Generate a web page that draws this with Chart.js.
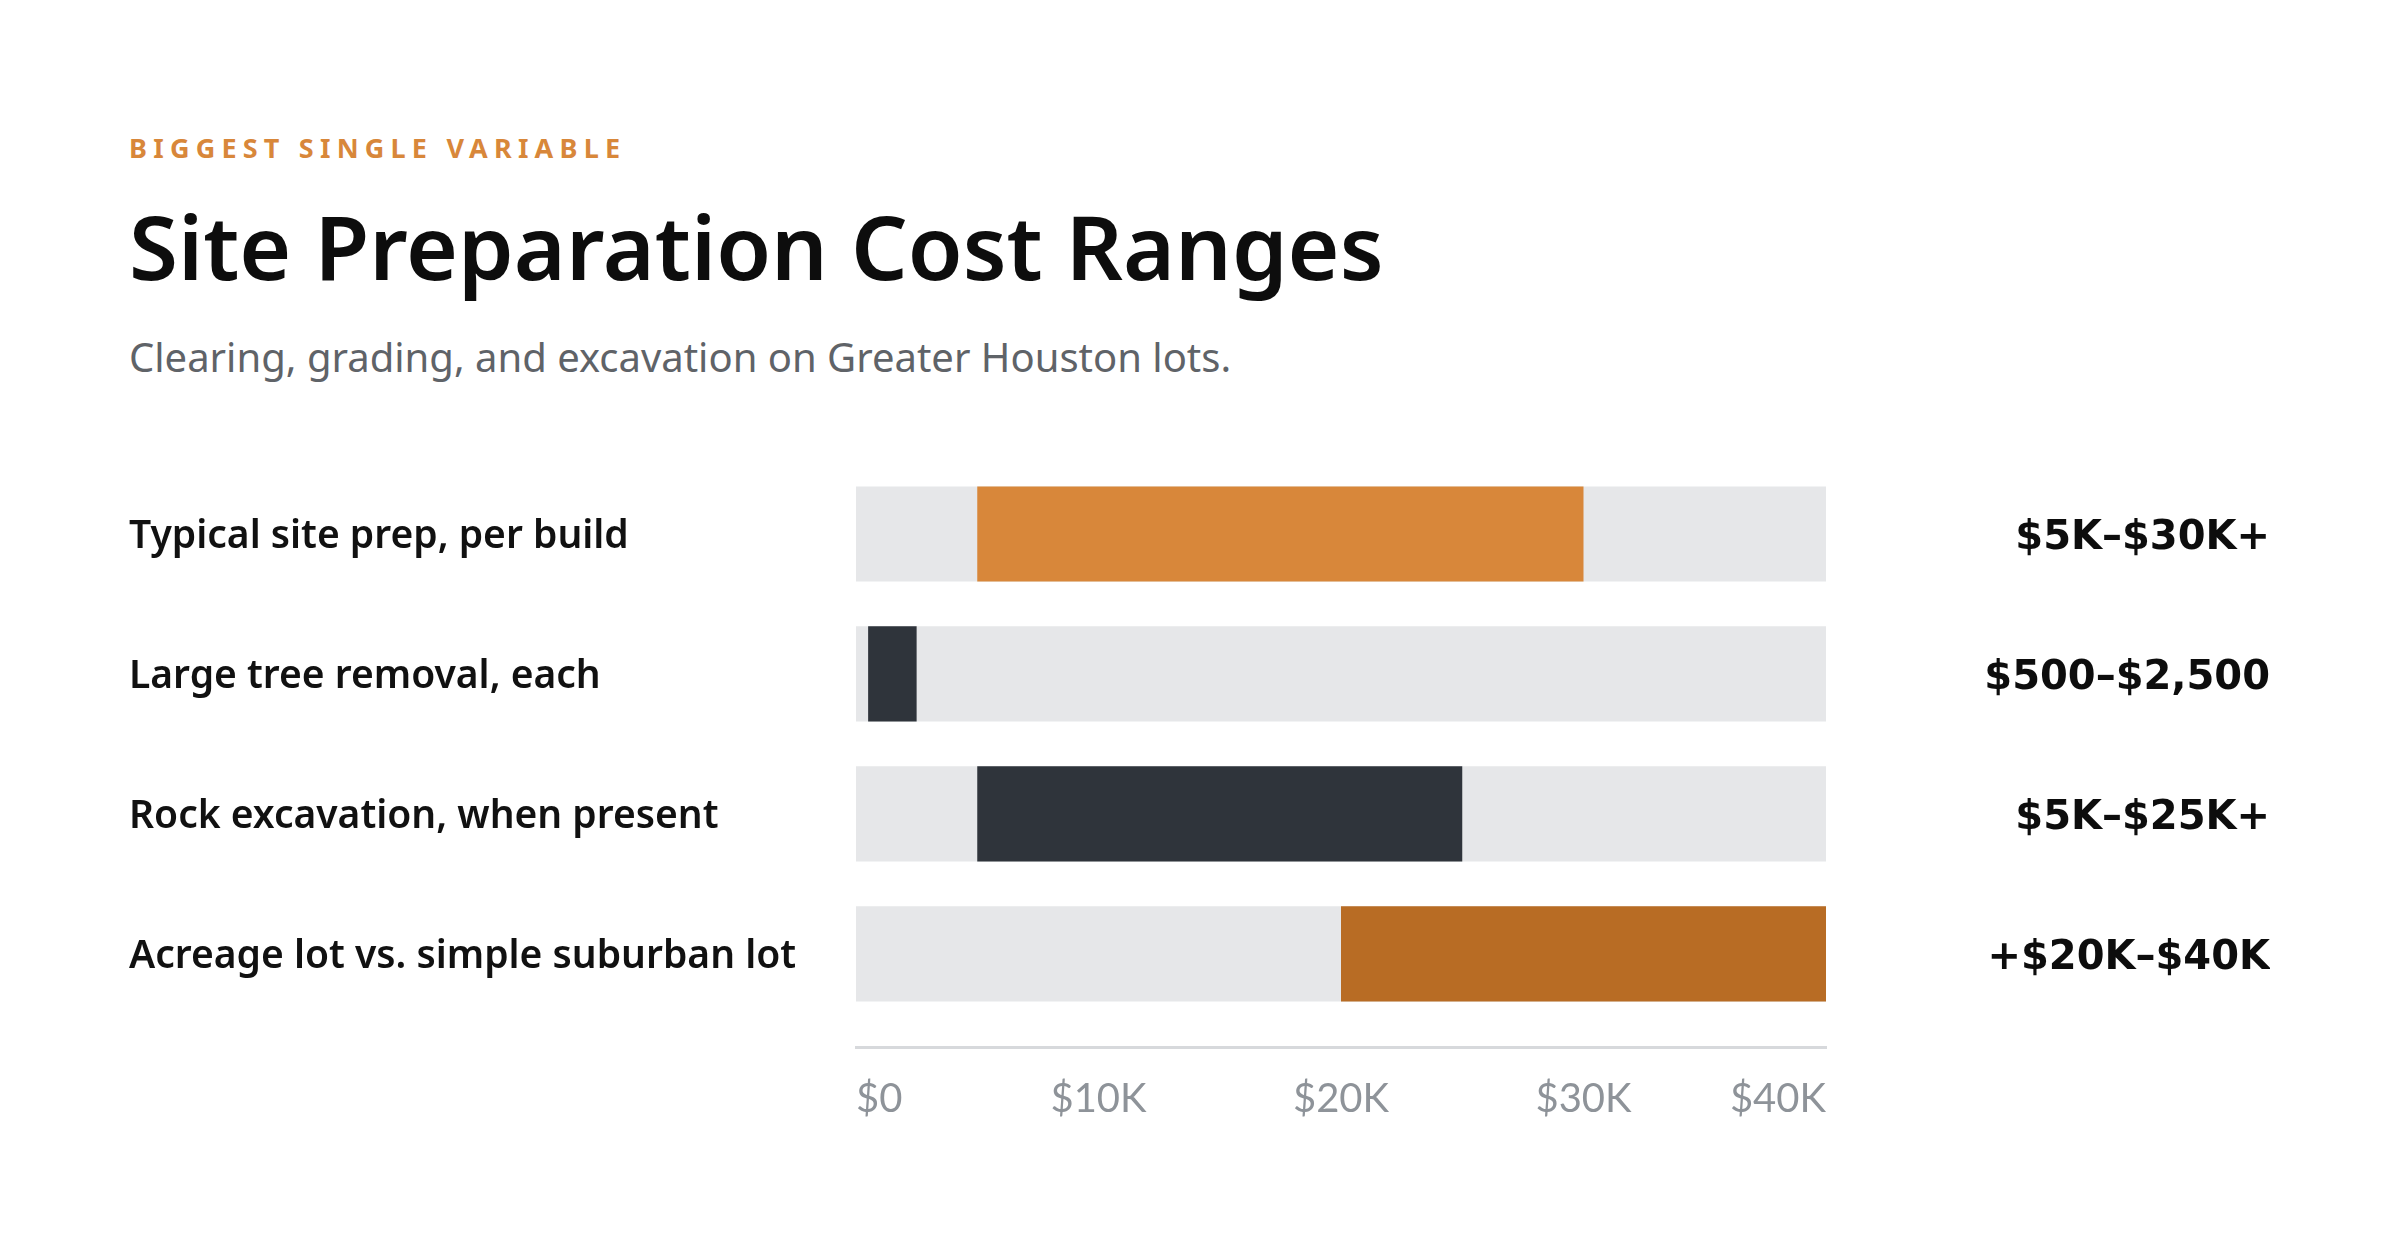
<!DOCTYPE html>
<html>
<head>
<meta charset="utf-8">
<script src="https://cdn.jsdelivr.net/npm/chart.js@4/dist/chart.umd.min.js"></script>
<style>
  html, body { margin: 0; padding: 0; background: #ffffff; }
  body { width: 2400px; height: 1258px; position: relative; overflow: hidden; font-family: "Noto Sans", Lato, sans-serif; }
  .eyebrow { position: absolute; left: 129px; top: 134px; font-size: 27px; line-height: 1; font-weight: 700; letter-spacing: 0.23em; color: #D8873A; }
  .title { position: absolute; left: 129px; top: 201px; font-size: 89px; line-height: 1; font-weight: 600; color: #0d0d0d; }
  .subtitle { position: absolute; left: 129px; top: 337px; font-size: 40px; line-height: 1; font-weight: 400; color: #5F6368; }
  .chart-box { position: absolute; left: 0; top: 440px; width: 2400px; height: 720px; }
</style>
</head>
<body>
<div class="eyebrow">BIGGEST SINGLE VARIABLE</div>
<div class="title">Site Preparation Cost Ranges</div>
<div class="subtitle">Clearing, grading, and excavation on Greater Houston lots.</div>
<div class="chart-box"><canvas id="chartRangos"></canvas></div>

<script>
// datos
const categories = [
    'Typical site prep, per build',
    'Large tree removal, each',
    'Rock excavation, when present',
    'Acreage lot vs. simple suburban lot'
];
const rangeLabels = ['$5K–$30K+', '$500–$2,500', '$5K–$25K+', '+$20K–$40K'];
const lows = [5000, 500, 5000, 20000];
const highs = [30000, 2500, 25000, 40000];
const axisMax = 40000;
const tickValues = [0, 10000, 20000, 30000, 40000];
const tickLabels = ['$0', '$10K', '$20K', '$30K', '$40K'];

const barColors = ['#D8873A', '#2F343B', '#2F343B', '#B86C24'];

const rowTicks = (scale) => {
    scale.ticks = categories.map((c, i) => ({ value: i }));
};

const canvas = document.getElementById('chartRangos');
const context = canvas.getContext('2d');

const chartRangos = new Chart(context, {
    type: 'bar',
    data: {
        datasets: [
            {
                label: 'Rango',
                data: categories.map((c, i) => ({ x: [lows[i], highs[i]], y: i })),
                backgroundColor: barColors,
                order: 0
            },
            {
                label: 'Fondo',
                data: categories.map((c, i) => ({ x: [0, axisMax], y: i })),
                backgroundColor: '#E6E7E9',
                order: 1
            }
        ]
    },
    options: {
        indexAxis: 'y',
        responsive: true,
        maintainAspectRatio: false,
        animation: false,
        grouped: false,
        categoryPercentage: 1,
        barPercentage: 0.68,
        layout: {
            padding: { left: 129, right: 130, top: 24, bottom: 37 }
        },
        plugins: {
            legend: { display: false },
            tooltip: { enabled: false }
        },
        scales: {
            x: {
                type: 'linear',
                min: 0,
                max: axisMax,
                grid: { display: false, drawTicks: false },
                border: { display: true, color: '#D7D9DC', width: 3 },
                afterBuildTicks: (scale) => {
                    scale.ticks = tickValues.map(v => ({ value: v }));
                },
                afterFit: (scale) => { scale.height = 76; },
                ticks: {
                    align: 'inner',
                    padding: 28,
                    color: '#8E9399',
                    font: { family: 'Lato', size: 40, weight: '400' },
                    callback: (value, index) => tickLabels[index]
                }
            },
            y: {
                type: 'linear',
                min: -0.5,
                max: 3.665,
                reverse: true,
                offset: false,
                grid: { display: false, drawTicks: false, offset: false },
                border: { display: false },
                afterBuildTicks: rowTicks,
                afterFit: (scale) => { scale.width = 727; },
                ticks: {
                    crossAlign: 'far',
                    padding: 0,
                    labelOffset: 3,
                    color: '#111111',
                    font: { family: 'Noto Sans', size: 39, weight: '600' },
                    callback: (value) => categories[value]
                }
            },
            y2: {
                type: 'linear',
                position: 'right',
                min: -0.5,
                max: 3.665,
                reverse: true,
                offset: false,
                grid: { display: false, drawTicks: false },
                border: { display: false },
                afterBuildTicks: rowTicks,
                afterFit: (scale) => { scale.width = 444; },
                ticks: {
                    crossAlign: 'far',
                    padding: 0,
                    labelOffset: 5,
                    color: '#0d0d0d',
                    font: { family: 'DejaVu Sans', size: 40, weight: 'bold' },
                    callback: (value) => rangeLabels[value]
                }
            }
        }
    }
});
</script>
</body>
</html>
